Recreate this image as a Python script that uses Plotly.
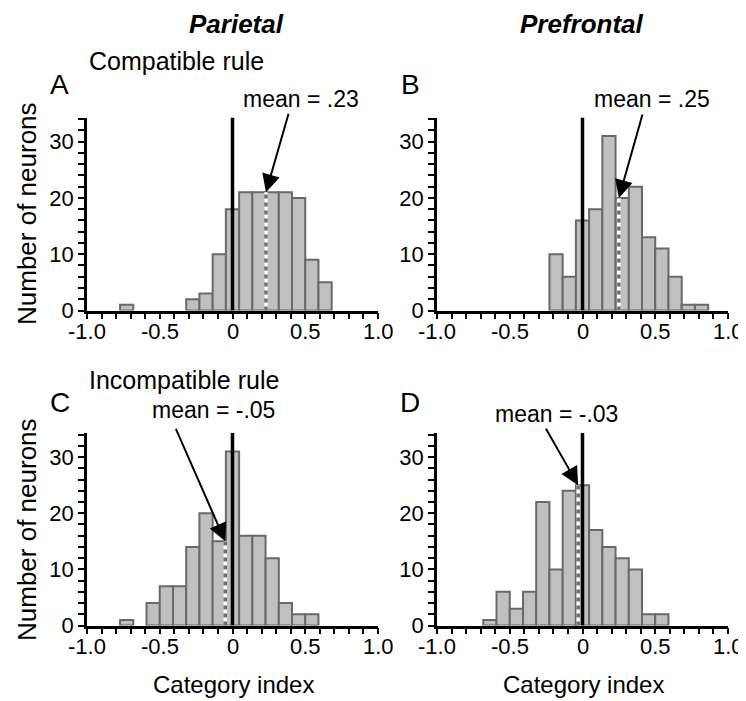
import plotly.graph_objects as go

# Page has an 8px body margin, so the figure is drawn 8px in from the corner.
W, H = 746, 701
OFF = 8
FW, FH = W - OFF, H - OFF
BIN = 1.0 / 11.0  # bin width

# ---- data (bin index k -> centre k/11, counts) ----
a_bins = [-8, -3, -2, -1, 0, 1, 2, 3, 4, 5, 6, 7]
a_counts = [1, 2, 3, 10, 18, 21, 21, 21, 21, 20, 9, 5]

b_bins = [-2, -1, 0, 1, 2, 3, 4, 5, 6, 7, 8, 9]
b_counts = [10, 6, 16, 18, 31, 20, 22, 13, 11, 6, 1, 1]

c_bins = [-8, -6, -5, -4, -3, -2, -1, 0, 1, 2, 3, 4, 5, 6]
c_counts = [1, 4, 7, 7, 14, 20, 15, 31, 16, 16, 12, 4, 2, 2]

d_bins = [-7, -6, -5, -4, -3, -2, -1, 0, 1, 2, 3, 4, 5, 6]
d_counts = [1, 6, 3, 6, 22, 10, 24, 25, 17, 14, 12, 10, 2, 2]

means = [0.23, 0.25, -0.05, -0.03]
mean_labels = ["mean = .23", "mean = .25", "mean = -.05", "mean = -.03"]
mean_tops = [21, 20, 15, 25]
panel_letters = ["A", "B", "C", "D"]
column_titles = ["Parietal", "Prefrontal"]
row_titles = ["Compatible rule", "Incompatible rule"]
x_tickvals = [-1.0, -0.5, 0.0, 0.5, 1.0]
x_ticktext = ["-1.0", "-0.5", "0", "0.5", "1.0"]
y_tickvals = [0, 10, 20, 30]
x_title = "Category index"
y_title = "Number of neurons"

FONT = "Liberation Sans, Arial, Helvetica, sans-serif"
BAR_FILL = "rgb(192,192,192)"
BAR_LINE = "rgb(105,105,105)"
YMAX = 34.3

def px2paper(x, y):
    return (x - OFF) / FW, 1 - (y - OFF) / FH

def pxx(x):
    return (x - OFF) / FW

def pxy(y):
    return 1 - (y - OFF) / FH

xdom = [[pxx(87), pxx(378)], [pxx(437), pxx(728)]]
ydom = [[pxy(310.5), pxy(117.5)], [pxy(625.5), pxy(433)]]
x_label_y = [331, 646]

panels = [(a_bins, a_counts, 0, 0), (b_bins, b_counts, 1, 0),
          (c_bins, c_counts, 0, 1), (d_bins, d_counts, 1, 1)]

fig = go.Figure()
layout = dict(width=FW, height=FH, margin=dict(l=0, r=0, t=0, b=0, autoexpand=False),
              paper_bgcolor="white", plot_bgcolor="white",
              showlegend=False, font=dict(family=FONT, color="black"))
shapes, annotations = [], []

for i, (bins, counts, col, row) in enumerate(panels):
    n = i + 1
    xa = "x" if n == 1 else f"x{n}"
    ya = "y" if n == 1 else f"y{n}"
    fig.add_trace(go.Bar(x=[k * BIN for k in bins], y=counts, width=BIN,
                         marker=dict(color=BAR_FILL, line=dict(color=BAR_LINE, width=2)),
                         xaxis=xa, yaxis=ya, hoverinfo="skip"))
    axis_common = dict(showline=True, linecolor="black", linewidth=2.5, mirror=False,
                       ticks="outside", ticklen=6, tickwidth=2, tickcolor="black",
                       showgrid=False, zeroline=False, automargin=False,
                       tickfont=dict(size=22, family=FONT, color="black"))
    layout["xaxis" if n == 1 else f"xaxis{n}"] = dict(
        axis_common, domain=xdom[col], range=[-1.0, 1.0], anchor=ya,
        tickvals=x_tickvals, showticklabels=False,
        minor=dict(dtick=0.1, tick0=0, ticks="outside", ticklen=6, tickwidth=2, tickcolor="black"))
    layout["yaxis" if n == 1 else f"yaxis{n}"] = dict(
        axis_common, domain=ydom[row], range=[0, YMAX], anchor=xa,
        tickvals=y_tickvals,
        minor=dict(dtick=2, tick0=0, ticks="outside", ticklen=6, tickwidth=2, tickcolor="black"))

    # x tick labels as annotations (closer to the axis, as in the reference)
    for v, t in zip(x_tickvals, x_ticktext):
        annotations.append(dict(x=v, xref=xa, y=pxy(x_label_y[row]), yref="paper",
                                text=t, showarrow=False, xanchor="center", yanchor="middle",
                                font=dict(size=22, family=FONT, color="black")))

    m = means[i]
    shapes.append(dict(type="line", xref=xa, yref=ya, x0=m, x1=m, y0=0, y1=mean_tops[i],
                       line=dict(color="white", width=3.5), layer="above"))
    shapes.append(dict(type="line", xref=xa, yref=ya, x0=m, x1=m, y0=0, y1=mean_tops[i],
                       line=dict(color="rgb(110,110,110)", width=3.5, dash="4px,4px"), layer="above"))
    shapes.append(dict(type="line", xref=xa, yref=ya, x0=0, x1=0, y0=0, y1=YMAX,
                       line=dict(color="black", width=3.5), layer="above"))

# arrow tails (pixel offsets from heads)
arrow_off = [(23, -80), (24, -85), (-50, -114), (-33, -58)]
for i in range(4):
    n = i + 1
    xa = "x" if n == 1 else f"x{n}"
    ya = "y" if n == 1 else f"y{n}"
    annotations.append(dict(x=means[i], y=mean_tops[i], xref=xa, yref=ya, text="",
                            showarrow=True, ax=arrow_off[i][0], ay=arrow_off[i][1],
                            arrowhead=2, arrowsize=1.8, arrowwidth=2, arrowcolor="black",
                            standoff=0))

def txt(x, y, s, size, bold=False, italic=False, xanchor="center", angle=0):
    t = s
    if bold:
        t = f"<b>{t}</b>"
    if italic:
        t = f"<i>{t}</i>"
    px, py = px2paper(x, y)
    annotations.append(dict(x=px, y=py, xref="paper", yref="paper", text=t,
                            showarrow=False, xanchor=xanchor, yanchor="middle",
                            textangle=angle, font=dict(size=size, family=FONT, color="black")))

txt(236, 24, column_titles[0], 26, bold=True, italic=True)
txt(582, 24, column_titles[1], 26, bold=True, italic=True)
txt(87, 61, row_titles[0], 25, xanchor="left")
txt(87, 380, row_titles[1], 25, xanchor="left")
letter_pos = [(60, 84), (410, 84), (60, 402), (410, 402)]
for i in range(4):
    txt(letter_pos[i][0], letter_pos[i][1], panel_letters[i], 28)
mean_pos = [(301, 99), (652, 99), (213, 410), (556, 414)]
for i in range(4):
    txt(mean_pos[i][0], mean_pos[i][1], mean_labels[i], 23)
txt(233, 684, x_title, 24)
txt(583, 684, x_title, 24)
txt(27, 214, y_title, 26, angle=-90)
txt(27, 530, y_title, 26, angle=-90)

layout["shapes"] = shapes
layout["annotations"] = annotations
fig.update_layout(**layout)
fig.write_html("out.html")
